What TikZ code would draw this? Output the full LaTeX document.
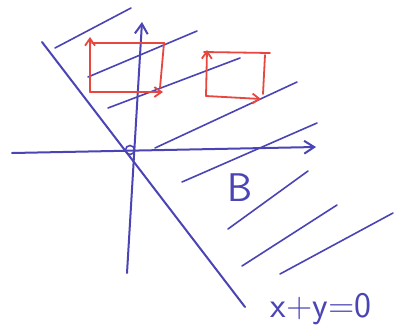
\documentclass[tikz,border=0pt]{standalone}
\usepackage{tikz}
\usetikzlibrary{arrows.meta}
\definecolor{PenBlue}{HTML}{4A44B4}
\definecolor{PenRed}{HTML}{E8473F}
\tikzset{
  axisline/.style={draw=PenBlue,line width=2pt,line cap=round},
  axisarrow/.style={axisline,-{Straight Barb[length=3.5mm,width=4.5mm]}},
  hatchline/.style={draw=PenBlue,line width=1.6pt,line cap=round},
  boxedge/.style={draw=PenRed,line width=1.8pt,line cap=round},
  boxarrow/.style={boxedge,-{Straight Barb[length=2.5mm,width=3.5mm]}},
  penlabel/.style={text=PenBlue,inner sep=0pt,font=\sffamily\fontsize{36}{36}\selectfont}
}

\begin{document}
\begin{tikzpicture}[x=1pt,y=-1pt]
  \fill[white] (0,0) rectangle (401,333);
  % axes and the boundary line
  \coordinate (origin) at (130,150);
  \coordinate (xleft) at (12,153);
  \coordinate (xright) at (316,147);
  \coordinate (ybottom) at (127,273);
  \coordinate (ytop) at (142,22);
  \coordinate (lineup) at (42,42);
  \coordinate (linedown) at (245,307);
  \draw[axisarrow] (xleft) -- (xright);
  \draw[axisarrow] (ybottom) -- (ytop);
  \draw[axisline] (lineup) -- (linedown);
  \draw[axisline,line width=1.6pt] (origin) circle (4.5);
  % hatching of the half plane
  \foreach \xa/\ya/\xb/\yb in {55/48/131/8, 88/77/197/31, 108/108/240/58,
      155/148/297/82, 182/182/317/123, 228/229/308/171,
      242/266/337/205, 280/274/393/213}
    \draw[hatchline] (\xa,\ya) -- (\xb,\yb);
  % translated unit boxes
  \coordinate (boxa) at (90,92);
  \draw[boxarrow] (boxa) -- (90,37);
  \draw[boxarrow] (boxa) -- (163,92);
  \draw[boxedge] (92,43) -- (164,43) -- (160,88);
  \coordinate (boxb) at (206,96);
  \draw[boxarrow] (boxb) -- (207,50);
  \draw[boxarrow] (boxb) -- (261,99);
  \draw[boxedge] (204,52) -- (270,53);
  \draw[boxedge] (265,55) -- (263,94);
  % labels
  \node[penlabel,font=\sffamily\fontsize{40}{40}\selectfont] (setb) at (240,188) {B};
  \node[penlabel] (boundary) at (321,309) {x+y=0};
\end{tikzpicture}
\end{document}
